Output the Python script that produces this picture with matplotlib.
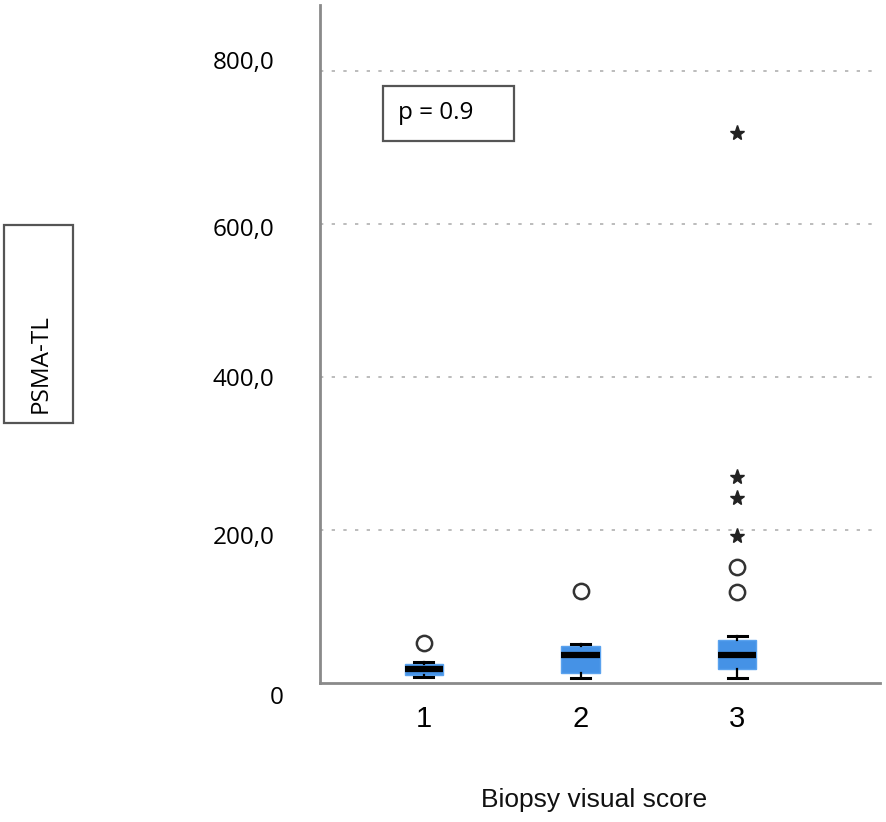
import matplotlib
matplotlib.use("Agg")
import matplotlib.pyplot as plt
from matplotlib.patches import Rectangle
from matplotlib.transforms import ScaledTranslation

# ---- data ----
categories = ["1", "2", "3"]
whisker_low = [8.2, 6.9, 6.1]
q1 = [10.5, 12.7, 18.3]
medians = [18.3, 36.6, 36.6]
q3 = [24.8, 48.4, 56.2]
whisker_high = [27.1, 50.6, 61.9]
outliers_circle = [[52.3], [120.7], [118.5, 152.0]]
outliers_star = [[], [], [192.0, 242.0, 269.0, 719.0]]
y_ticks = [0, 200, 400, 600, 800]
y_tick_labels = ["0", "200,0", "400,0", "600,0", "800,0"]
x_label = "Biopsy visual score"
y_label = "PSMA-TL"
p_text = "p = 0.9"

W, H = 886, 822
fig = plt.figure(figsize=(W / 100, H / 100), dpi=100)
ax = fig.add_axes([320 / W, 1 - 683 / H, 560 / W, 678 / H])

positions = list(range(1, len(categories) + 1))
stats = []
for i in range(len(categories)):
    stats.append(dict(whislo=whisker_low[i], q1=q1[i], med=medians[i],
                      q3=q3[i], whishi=whisker_high[i],
                      fliers=outliers_circle[i], label=categories[i]))

box_color = "#4592e6"
ax.bxp(stats, positions=positions, widths=0.245, patch_artist=True,
       showfliers=True, manage_ticks=False,
       boxprops=dict(facecolor=box_color, edgecolor="#5aa2ee", linewidth=1.0),
       medianprops=dict(color="black", linewidth=4.5, solid_capstyle="butt"),
       whiskerprops=dict(color="black", linewidth=1.6),
       capprops=dict(color="black", linewidth=2.2),
       capwidths=0.12,
       flierprops=dict(marker="o", markersize=11, markerfacecolor="white",
                       markeredgecolor="#333333", markeredgewidth=1.8,
                       linestyle="none"))

for i, stars in enumerate(outliers_star):
    if stars:
        ax.plot([positions[i]] * len(stars), stars, linestyle="none",
                marker="*", markersize=11, color="#222222", zorder=4)

ax.set_xlim(1 - 104 / 157, 3 + 143 / 157)
ax.set_ylim(0, 678 / 153 * 200)

# grid lines
for v in y_ticks[1:]:
    ax.axhline(v, color="#b0b0b0", linewidth=1.2, linestyle=(0, (2, 5)), zorder=0)

for s in ["top", "right"]:
    ax.spines[s].set_visible(False)
for s in ["left", "bottom"]:
    ax.spines[s].set_color("#8a8a8a")
    ax.spines[s].set_linewidth(2)

ax.set_xticks(positions)
ax.set_xticklabels(categories, fontsize=21, family="Liberation Sans", color="black")
ax.tick_params(axis="x", length=0, pad=16)

ax.set_yticks(y_ticks)
ax.set_yticklabels(y_tick_labels, fontsize=17.5, family="Open Sans", color="black")
ax.tick_params(axis="y", length=0, pad=33)

# per-label pixel offsets (dx right, dy down) to mimic the reference
offsets = [(9, 12), (0, 5), (0, 0), (0, 3), (0, -11)]
for lab, (dx, dy) in zip(ax.get_yticklabels(), offsets):
    lab.set_transform(lab.get_transform() +
                      ScaledTranslation(dx / 100, -dy / 100, fig.dpi_scale_trans))

# x label
fig.text(594 / W, 1 - 800 / H, x_label, ha="center", va="center",
         fontsize=19, family="Liberation Sans", color="#111111")

# y label in a box
fig.patches.append(Rectangle((4 / W, 1 - 423 / H), 69 / W, 198 / H,
                             transform=fig.transFigure, fill=False,
                             edgecolor="#555555", linewidth=1.6))
fig.text(41 / W, 1 - 364 / H, y_label, rotation=90, ha="center", va="center",
         fontsize=17.5, family="Open Sans", color="black")

# p-value box
fig.patches.append(Rectangle((383 / W, 1 - 141 / H), 131 / W, 55 / H,
                             transform=fig.transFigure, fill=False,
                             edgecolor="#555555", linewidth=1.6))
fig.text(398 / W, 1 - 113 / H, p_text, ha="left", va="center",
         fontsize=17.5, family="Open Sans", color="black")

fig.savefig("out.png", dpi=100)
